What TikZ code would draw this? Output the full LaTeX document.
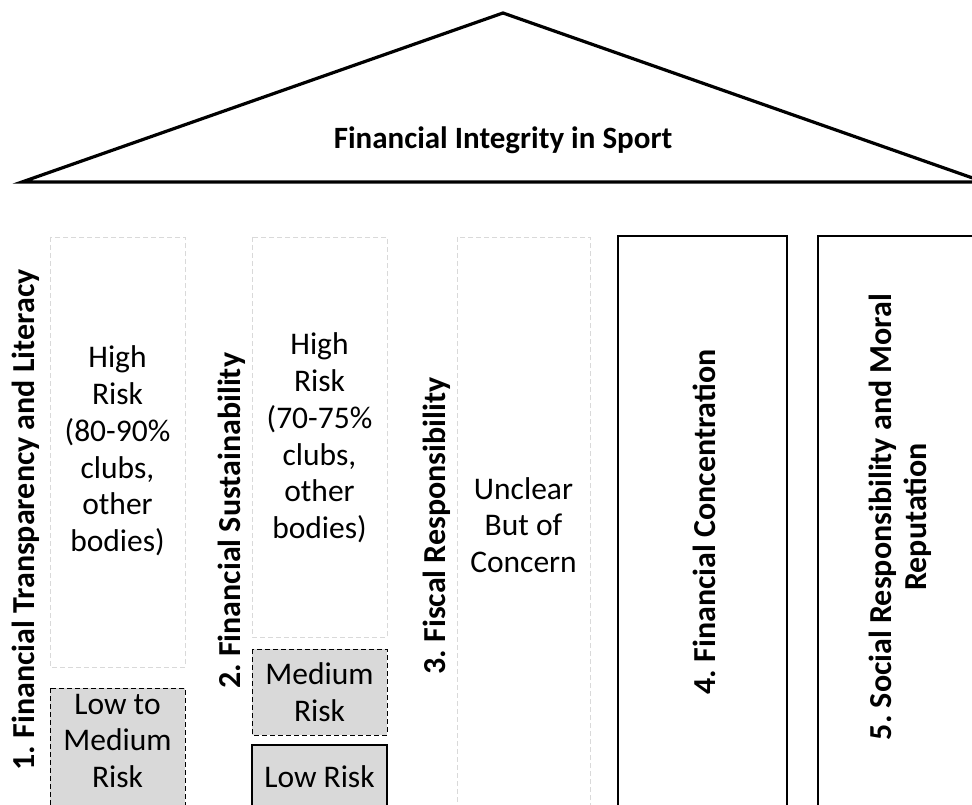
\documentclass[tikz,border=0pt]{standalone}
\usepackage{fontspec}
\setmainfont{Carlito}
\begin{document}
\frenchspacing
\begin{tikzpicture}[x=1pt,y=-1pt,
  roof/.style={draw=black,line width=3.2pt,line join=miter},
  faintbox/.style={draw=black!15,dash pattern=on 5pt off 3pt,line width=0.9pt,fill=white},
  lowbox/.style={draw=black,dash pattern=on 5pt off 3pt,line width=1pt,fill=black!15},
  solidlow/.style={draw=black,line width=1.2pt,fill=black!15},
  pillar/.style={draw=black,line width=2.8pt},
  boxtxt/.style={align=center,font=\fontsize{31.5}{36.8}\selectfont,inner sep=0pt},
  lbl/.style={rotate=90,align=center,font=\fontsize{32}{35}\selectfont\bfseries,inner sep=0pt}]
\clip (0,0) rectangle (972,805);
\fill[white] (0,0) rectangle (972,805);
% roof
\draw[roof] (22,182) -- (503,13) -- (984,182) -- cycle;
\node[font=\fontsize{31}{36}\selectfont\bfseries,inner sep=0pt] (title) at (503,140) {Financial Integrity in Sport};
% column 1
\node[lbl] (l1) at (26,520) {1. Financial Transparency and Literacy};
\draw[faintbox] (50,237) rectangle (185,667);
\node[boxtxt] (h1) at (117.5,451) {High\\Risk\\(80-90\%\\clubs,\\other\\bodies)};
\draw[lowbox] (50,688) rectangle (185,820);
\node[boxtxt] (m1) at (117.5,741) {Low to\\Medium\\Risk};
% column 2
\node[lbl] (l2) at (232,521) {2. Financial Sustainability};
\draw[faintbox] (252,237) rectangle (387,637);
\node[boxtxt] (h2) at (319.5,438) {High\\Risk\\(70-75\%\\clubs,\\other\\bodies)};
\draw[lowbox] (252,649) rectangle (387,735);
\node[boxtxt] (m2) at (319.5,692) {Medium\\Risk};
\draw[solidlow] (252,745) rectangle (387,820);
\node[boxtxt] (lo2) at (319.5,777) {Low Risk};
% column 3
\node[lbl] (l3) at (437,526) {3. Fiscal Responsibility};
\draw[faintbox] (457,237) rectangle (590,820);
\node[boxtxt] (u3) at (523.5,525) {Unclear\\But of\\Concern};
% column 4
\draw[pillar] (618,236) rectangle (787,820);
\node[lbl] (l4) at (704,522) {4. Financial Concentration};
% column 5
\draw[pillar] (818,236) rectangle (1000,820);
\node[lbl] (l5) at (900,517) {5. Social Responsibility and Moral\\Reputation};
\end{tikzpicture}
\end{document}
